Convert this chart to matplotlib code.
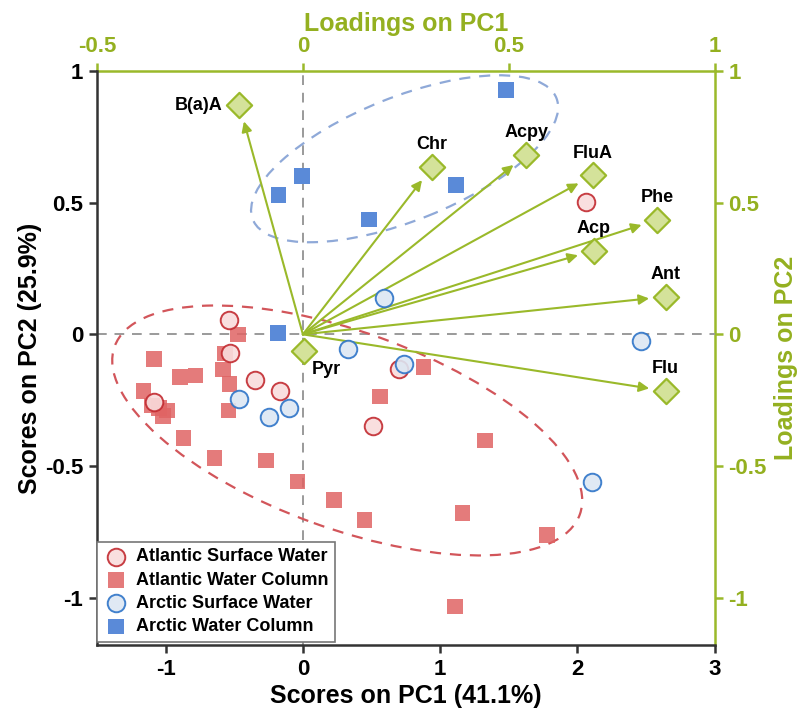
import numpy as np
import matplotlib
matplotlib.use('Agg')
import matplotlib.pyplot as plt
from matplotlib.patches import Ellipse
from matplotlib.transforms import ScaledTranslation

plt.rcParams['font.family'] = ['Liberation Sans', 'DejaVu Sans']
plt.rcParams['font.weight'] = 'bold'

# scores (PC1, PC2) per sample group
atl_surf_x = [2.061, -0.537, -0.530, -0.347, -0.165, -1.088, 0.701, 0.514]
atl_surf_y = [0.501, 0.053, -0.071, -0.174, -0.216, -0.257, -0.131, -0.349]

atl_col_x = [-0.473, -1.083, -0.894, -0.784, -0.583, -0.566, -0.535, -1.161, -0.542,
             -1.10, -1.05, -0.99, -1.02, -0.87, -0.644, -0.267, -0.039, 0.228,
             0.449, 1.328, 1.163, 1.777, 1.109, 0.879, 0.563]
atl_col_y = [-0.001, -0.093, -0.162, -0.156, -0.134, -0.073, -0.188, -0.215, -0.289,
             -0.27, -0.28, -0.29, -0.31, -0.393, -0.470, -0.479, -0.559, -0.629,
             -0.705, -0.403, -0.679, -0.762, -1.033, -0.124, -0.236]

arc_surf_x = [0.594, 0.325, 0.738, 2.462, 2.105, -0.464, -0.245, -0.102]
arc_surf_y = [0.140, -0.057, -0.114, -0.025, -0.561, -0.245, -0.314, -0.280]

arc_col_x = [1.478, -0.007, -0.178, 0.483, 1.114, -0.182]
arc_col_y = [0.928, 0.601, 0.529, 0.436, 0.567, 0.006]

# loadings
pah_names = ['B(a)A', 'Chr', 'Acpy', 'FluA', 'Phe', 'Acp', 'Ant', 'Flu', 'Pyr']
load_pc1 = [-0.154, 0.314, 0.543, 0.705, 0.861, 0.707, 0.881, 0.881, 0.003]
load_pc2 = [0.870, 0.636, 0.683, 0.604, 0.435, 0.318, 0.143, -0.215, -0.065]

x_ticks = [-1, 0, 1, 2, 3]
y_ticks = [-1, -0.5, 0, 0.5, 1]
top_ticks = [-0.5, 0, 0.5, 1]
right_ticks = [-1, -0.5, 0, 0.5, 1]

green = '#9AB92A'
green_txt = '#94B020'


def fmt(v):
    return '%g' % v


fig = plt.figure(figsize=(8.03, 7.11), dpi=100)
ax = fig.add_axes([0.1208, 0.0928, 0.7692, 0.8072])
ax.set_xlim(-1.5, 3)
ax.set_ylim(-1.18, 1.0)

to_load = lambda x: x / 3.0
to_score = lambda x: x * 3.0

ax.axhline(0, color='#9a9a9a', lw=1.4, ls=(0, (5, 4)), zorder=1)
ax.axvline(0, color='#9a9a9a', lw=1.4, ls=(0, (5, 4)), zorder=1)

# group ellipses (shape given in screen inches, centred on data points)
e_blue = Ellipse((0, 0), 2 * 1.635, 2 * 0.617, angle=21.8, fill=False,
                 ec='#8FA9D8', lw=1.6, ls=(0, (5, 4)), zorder=1.5,
                 transform=fig.dpi_scale_trans + ScaledTranslation(0.741, 0.667, ax.transData))
e_red = Ellipse((0, 0), 2 * 2.473, 2 * 0.984, angle=-19.85, fill=False,
                ec='#D2555A', lw=1.6, ls=(0, (5, 4)), zorder=1.5,
                transform=fig.dpi_scale_trans + ScaledTranslation(0.323, -0.365, ax.transData))
ax.add_patch(e_blue)
ax.add_patch(e_red)

# arrows from origin to loadings
for name, lx, ly in zip(pah_names, load_pc1, load_pc2):
    sx = to_score(lx)
    if np.hypot(sx, ly) > 0.2:
        ax.annotate('', xy=(sx, ly), xytext=(0, 0),
                    arrowprops=dict(arrowstyle='-|>', color=green, lw=1.5,
                                    mutation_scale=15, shrinkA=0, shrinkB=12),
                    zorder=2)

ax.scatter(atl_col_x, atl_col_y, marker='s', s=125, c='#E06464', alpha=0.85,
           edgecolors='none', zorder=3, label='Atlantic Water Column')
ax.scatter(arc_col_x, arc_col_y, marker='s', s=125, c='#5A8AD8',
           edgecolors='none', zorder=3, label='Arctic Water Column')
ax.scatter(atl_surf_x, atl_surf_y, marker='o', s=160, c='#F9DCDC', alpha=0.9,
           edgecolors='#C22A30', linewidths=1.4, zorder=4, label='Atlantic Surface Water')
ax.scatter(arc_surf_x, arc_surf_y, marker='o', s=160, c='#DDE7F3', alpha=0.9,
           edgecolors='#2E74C8', linewidths=1.4, zorder=4, label='Arctic Surface Water')

ax.scatter([to_score(v) for v in load_pc1], load_pc2, marker='D', s=165,
           c='#D4E29A', edgecolors=green, linewidths=1.6, zorder=5)

for name, lx, ly in zip(pah_names, load_pc1, load_pc2):
    if name == 'B(a)A':
        off, ha, va = (-12, 0), 'right', 'center'
    elif name == 'Pyr':
        off, ha, va = (16, -13), 'center', 'center'
    else:
        off, ha, va = (0, 16), 'center', 'center'
    ax.annotate(name, xy=(to_score(lx), ly), xytext=off, textcoords='offset points',
                ha=ha, va=va, fontsize=13, fontweight='bold', color='black', zorder=6)

# axes styling
ax.set_xticks(x_ticks)
ax.set_xticklabels([fmt(v) for v in x_ticks])
ax.set_yticks(y_ticks)
ax.set_yticklabels([fmt(v) for v in y_ticks])
ax.tick_params(axis='both', labelsize=16, width=1.8, length=6, color='#333333', pad=4)
for lab in ax.get_xticklabels() + ax.get_yticklabels():
    lab.set_fontweight('bold')
ax.spines['left'].set_color('#333333')
ax.spines['bottom'].set_color('#333333')
ax.spines['left'].set_linewidth(1.8)
ax.spines['bottom'].set_linewidth(1.8)
ax.spines['top'].set_visible(False)
ax.spines['right'].set_visible(False)
ax.set_xlabel('Scores on PC1 (41.1%)', fontsize=18, fontweight='bold', labelpad=3)
ax.set_ylabel('Scores on PC2 (25.9%)', fontsize=18, fontweight='bold', labelpad=2)

top = ax.secondary_xaxis('top', functions=(to_load, to_score))
top.set_xticks(top_ticks)
top.set_xticklabels([fmt(v) for v in top_ticks])
top.tick_params(labelsize=16, width=1.8, length=6, color=green, labelcolor=green_txt, pad=4)
top.spines['top'].set_color(green)
top.spines['top'].set_linewidth(1.8)
top.set_xlabel('Loadings on PC1', fontsize=18, fontweight='bold', color=green_txt, labelpad=4)
for lab in top.get_xticklabels():
    lab.set_fontweight('bold')

right = ax.secondary_yaxis('right', functions=(lambda y: y, lambda y: y))
right.set_yticks(right_ticks)
right.set_yticklabels([fmt(v) for v in right_ticks])
right.tick_params(labelsize=16, width=1.8, length=6, color=green, labelcolor=green_txt, pad=4)
right.spines['right'].set_color(green)
right.spines['right'].set_linewidth(1.8)
right.set_ylabel('Loadings on PC2', fontsize=18, fontweight='bold', color=green_txt, labelpad=5)
for lab in right.get_yticklabels():
    lab.set_fontweight('bold')

handles, labels = ax.get_legend_handles_labels()
order = [labels.index(k) for k in ['Atlantic Surface Water', 'Atlantic Water Column',
                                   'Arctic Surface Water', 'Arctic Water Column']]
leg = ax.legend([handles[i] for i in order], [labels[i] for i in order],
                loc='lower left', bbox_to_anchor=(0, 0.006), borderaxespad=0,
                prop={'size': 13, 'weight': 'bold'}, fancybox=False, framealpha=1,
                edgecolor='#777777', handletextpad=0.4, labelspacing=0.35,
                borderpad=0.35, handlelength=1.4)
leg.get_frame().set_linewidth(1.2)

plt.savefig('out.png', dpi=100)
plt.close()
